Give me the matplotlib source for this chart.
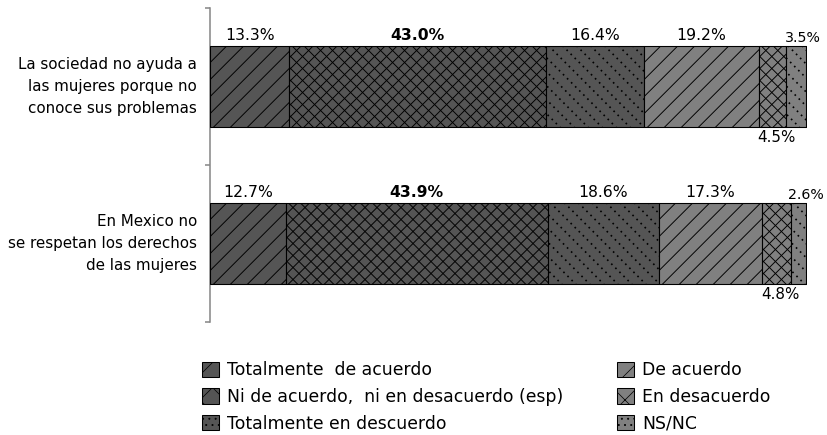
import matplotlib
matplotlib.use('Agg')
import matplotlib.pyplot as plt
from matplotlib.patches import Patch

plt.rcParams['font.family'] = ['DejaVu Sans']
plt.rcParams['hatch.linewidth'] = 0.7

categories = ['La sociedad no ayuda a\nlas mujeres porque no\nconoce sus problemas',
              'En Mexico no\nse respetan los derechos\nde las mujeres']
series = ['Totalmente  de acuerdo', 'Ni de acuerdo,  ni en desacuerdo (esp)',
          'Totalmente en descuerdo', 'De acuerdo', 'En desacuerdo', 'NS/NC']
tot_acuerdo = [13.3, 12.7]
ni_ni = [43.0, 43.9]
tot_desacuerdo = [16.4, 18.6]
de_acuerdo = [19.2, 17.3]
en_desacuerdo = [4.5, 4.8]
ns_nc = [3.5, 2.6]
values = [tot_acuerdo, ni_ni, tot_desacuerdo, de_acuerdo, en_desacuerdo, ns_nc]

dark = '#555555'
light = '#808080'
colors = [dark, dark, dark, light, light, light]
patterns = ['diag', 'cross', 'dots', 'diag', 'cross', 'dots']
legend_hatch = ['/', 'x', '..', '/', 'x', '..']

DPI = 75
fig = plt.figure(figsize=(827 / DPI, 435 / DPI), dpi=DPI)
ax = fig.add_axes([210 / 827, 1 - 322 / 435, 597 / 827, 314 / 435])
ax.set_xlim(0, 100)
ax.set_ylim(1.5, -0.5)

p0 = ax.transData.transform((0, 0))
p1 = ax.transData.transform((1, 1))
px_x = abs(p1[0] - p0[0])
px_y = abs(p1[1] - p0[1])


def hatch_rect(r, up, spacing, **style):
    # 45 degree lines (in pixels) clipped to the bar segment
    x0, y0, w, h = r.get_x(), r.get_y(), r.get_width(), r.get_height()
    run = h * px_y / px_x
    step = spacing / px_x
    c = x0 - run
    while c < x0 + w:
        ys = [y0 + h, y0] if up else [y0, y0 + h]
        ln, = ax.plot([c, c + run], ys, color='black', zorder=3, **style)
        ln.set_clip_path(r)
        c += step


ypos = list(range(len(categories)))
bar_h = 0.52
left = [0.0] * len(categories)
for i, vals in enumerate(values):
    rects = ax.barh(ypos, vals, left=left, height=bar_h, color=colors[i],
                    edgecolor='black', linewidth=1, zorder=2)
    for j, r in enumerate(rects):
        if patterns[i] == 'diag':
            hatch_rect(r, True, 17, linewidth=0.9)
        elif patterns[i] == 'cross':
            hatch_rect(r, True, 12, linewidth=0.9)
            hatch_rect(r, False, 12, linewidth=0.9)
        else:
            hatch_rect(r, False, 14, linewidth=1.6, linestyle=(0, (1, 2.45)))
        cx = left[j] + vals[j] / 2
        lab = '%.1f%%' % vals[j]
        if i == 4:
            ax.annotate(lab, xy=(cx, ypos[j] + bar_h / 2), xytext=(4, -3),
                        textcoords='offset points', ha='center', va='top', fontsize=14.5)
        elif i == 5:
            ax.annotate(lab, xy=(cx, ypos[j] - bar_h / 2), xytext=(7, 1),
                        textcoords='offset points', ha='center', va='bottom', fontsize=13.5)
        else:
            ax.annotate(lab, xy=(cx, ypos[j] - bar_h / 2), xytext=(0, 3),
                        textcoords='offset points', ha='center', va='bottom', fontsize=15,
                        fontweight='bold' if i == 1 else 'normal')
    # outline on top of the hand-drawn hatching
    ax.barh(ypos, vals, left=left, height=bar_h, facecolor='none',
            edgecolor='black', linewidth=1, zorder=4)
    left = [l + v for l, v in zip(left, vals)]

ax.set_yticks([-0.5, 0.5, 1.5])
ax.set_yticklabels([])
ax.tick_params(axis='y', length=5, width=1.5, color='#888888')
ax.set_xticks([])
for s in ['top', 'right', 'bottom']:
    ax.spines[s].set_visible(False)
ax.spines['left'].set_color('#888888')
ax.spines['left'].set_linewidth(1.5)
ax.set_xlim(0, 100)
ax.set_ylim(1.5, -0.5)

for j, cat in enumerate(categories):
    ax.text(-13 / px_x, ypos[j], cat, ha='right', va='center',
            multialignment='right', fontsize=14.5, linespacing=1.55)

handles = [Patch(facecolor=colors[i], edgecolor='black', hatch=legend_hatch[i],
                 label=series[i]) for i in range(len(series))]
kw = dict(frameon=False, fontsize=16.5, handlelength=1.0, handleheight=1.0,
          handletextpad=0.45, labelspacing=0.5, borderpad=0, borderaxespad=0,
          loc='center left')
fig.legend(handles=handles[:3], bbox_to_anchor=(202 / 827, 1 - 397 / 435), **kw)
fig.legend(handles=handles[3:], bbox_to_anchor=(617 / 827, 1 - 397 / 435), **kw)

fig.savefig('out.png', dpi=DPI)
